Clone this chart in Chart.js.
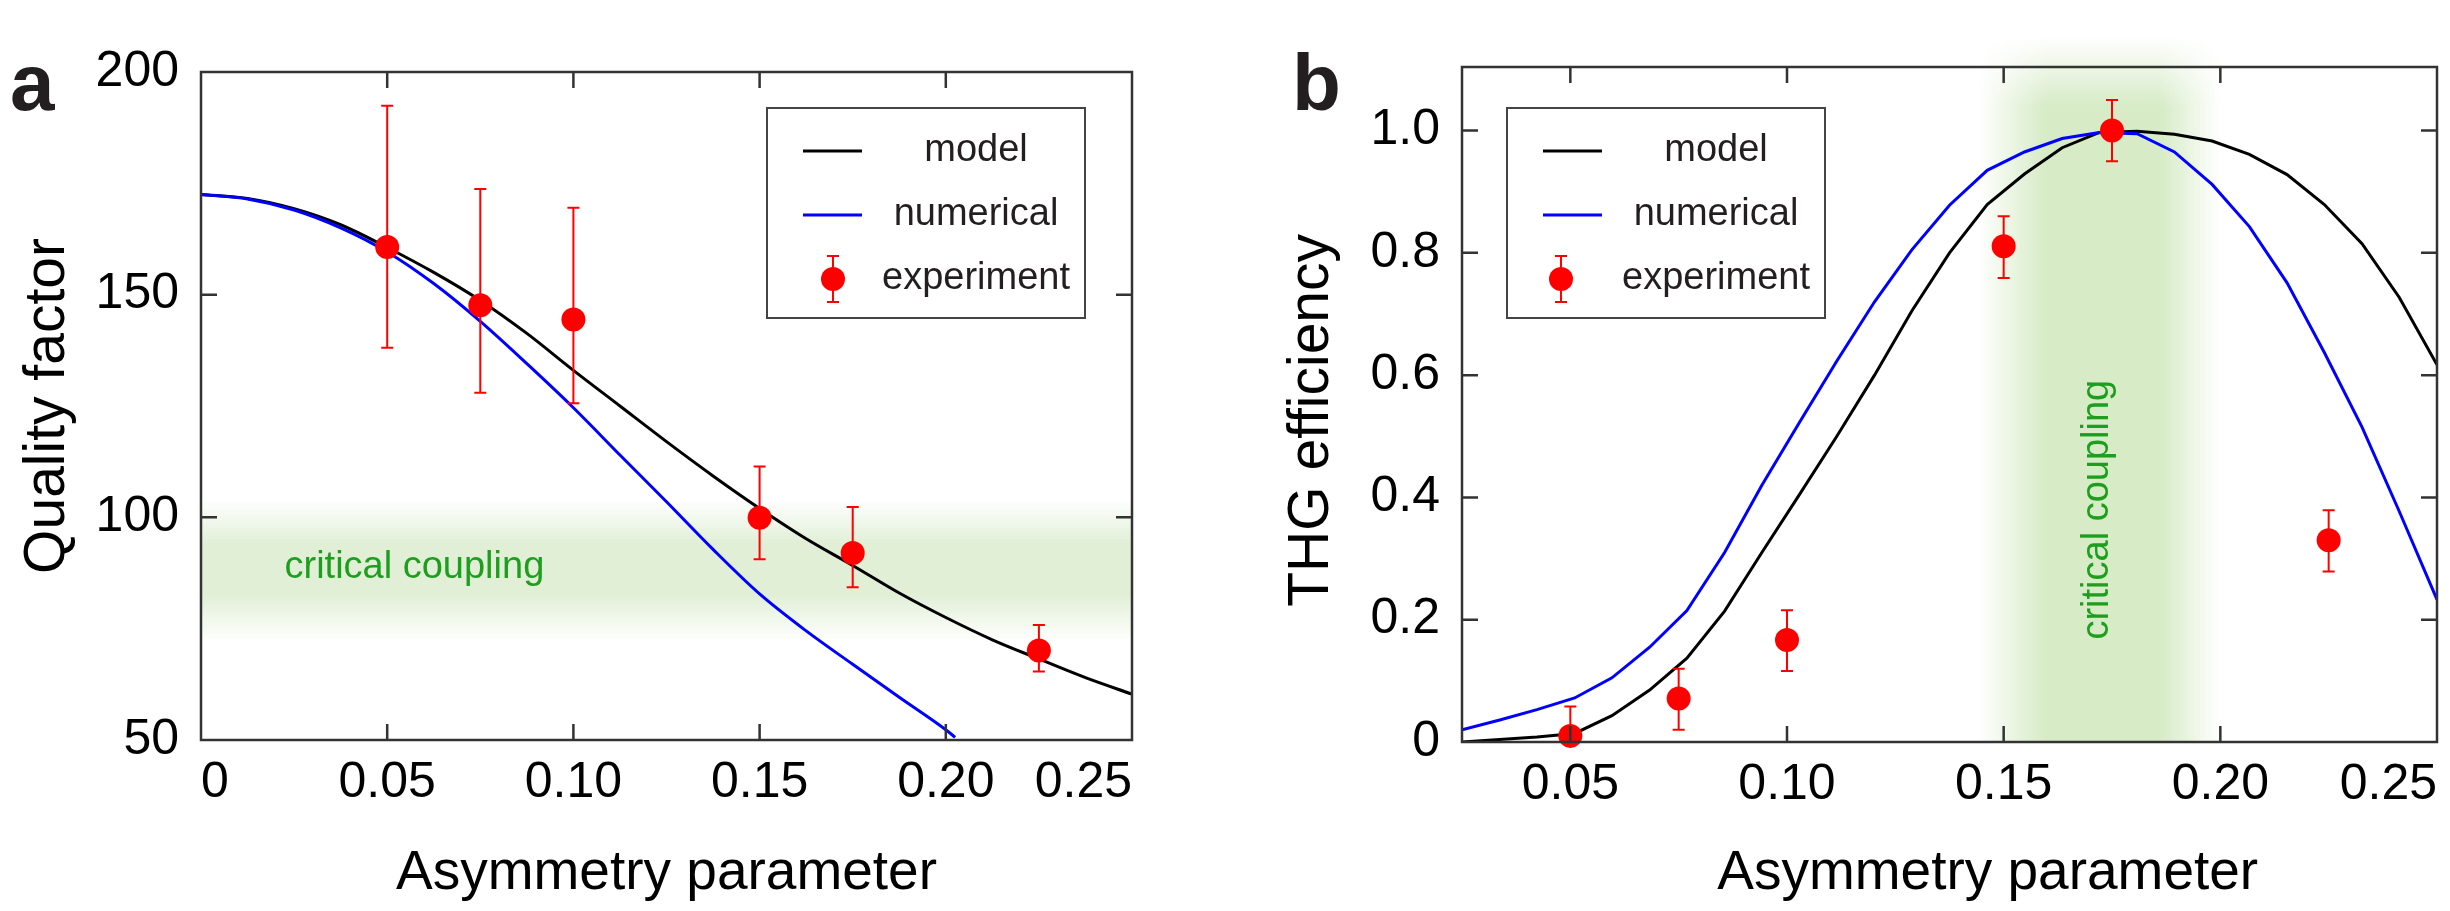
<!DOCTYPE html>
<html>
<head>
<meta charset="utf-8">
<title>Quality factor and THG efficiency vs asymmetry parameter</title>
<script src="https://cdn.jsdelivr.net/npm/chart.js@4.4.1/dist/chart.umd.min.js"></script>
<style>
  html, body { margin: 0; padding: 0; background: #fff; }
  body { width: 2450px; height: 911px; position: relative; overflow: hidden; }
  #chart-a { position: absolute; left: 0; top: 0; }
  #chart-b { position: absolute; left: 1200px; top: 0; }
</style>
</head>
<body>
<canvas id="chart-a" width="1200" height="911"></canvas>
<canvas id="chart-b" width="1250" height="911"></canvas>
<script>
// Two panels: (a) quality factor, (b) THG efficiency, both vs asymmetry parameter

// ---- panel a data ----
const aModelX = [0, 0.0125, 0.025, 0.0375, 0.05, 0.0625, 0.075, 0.0875, 0.1, 0.1125, 0.125, 0.1375, 0.15, 0.1625, 0.175, 0.1875, 0.2, 0.2125, 0.225, 0.2375, 0.25];
const aModelY = [172.5, 171.6, 169.3, 165.7, 160.6, 155, 148.7, 141.3, 133, 125, 117, 109.3, 102, 95.2, 89.2, 83, 77.5, 72.5, 68.2, 64, 60.3];
const aNumX = [0, 0.0125, 0.025, 0.0375, 0.05, 0.0625, 0.075, 0.0875, 0.1, 0.1125, 0.125, 0.1375, 0.15, 0.1625, 0.175, 0.1875, 0.2, 0.2025];
const aNumY = [172.5, 171.5, 169, 165, 159.6, 152.5, 144, 134.5, 124.6, 114, 103.5, 92.8, 82.8, 74.5, 67, 59.6, 52.3, 50.6];
const aExpX = [0.05, 0.075, 0.10, 0.15, 0.175, 0.225];
const aExpY = [160.7, 147.6, 144.4, 99.9, 92.0, 70.1];
const aExpLow = [138.1, 128, 125.6, 90.6, 84.3, 65.4];
const aExpHigh = [192.4, 173.7, 169.5, 111.4, 102.3, 75.8];
const aXTicks = [0, 0.05, 0.10, 0.15, 0.20, 0.25];
const aXTickLabels = ['0', '0.05', '0.10', '0.15', '0.20', '0.25'];
const aYTicks = [50, 100, 150, 200];
const aYTickLabels = ['50', '100', '150', '200'];
const aCriticalQ = [72, 83, 94, 104];   // fade-in, full, full, fade-out

// ---- panel b data ----
const bGridX = [0.025, 0.0337, 0.0423, 0.051, 0.0596, 0.0683, 0.0769, 0.0856, 0.0942, 0.1029, 0.1115, 0.1202, 0.1288, 0.1375, 0.1462, 0.1548, 0.1635, 0.1721, 0.1808, 0.1894, 0.1981, 0.2067, 0.2154, 0.224, 0.2327, 0.2413, 0.25];
const bModelY = [0.0, 0.004, 0.008, 0.014, 0.043, 0.085, 0.137, 0.214, 0.31, 0.405, 0.5, 0.6, 0.705, 0.8, 0.879, 0.929, 0.972, 0.997, 0.999, 0.994, 0.983, 0.961, 0.928, 0.879, 0.815, 0.727, 0.617];
const bNumY = [0.02, 0.036, 0.053, 0.072, 0.105, 0.155, 0.215, 0.31, 0.42, 0.523, 0.623, 0.72, 0.805, 0.878, 0.935, 0.965, 0.987, 0.997, 0.995, 0.965, 0.912, 0.843, 0.751, 0.637, 0.515, 0.377, 0.233];
const bExpX = [0.05, 0.075, 0.10, 0.15, 0.175, 0.225];
const bExpY = [0.01, 0.071, 0.167, 0.811, 1.0, 0.33];
const bExpLow = [-0.038, 0.02, 0.116, 0.759, 0.95, 0.279];
const bExpHigh = [0.058, 0.12, 0.2155, 0.86, 1.05, 0.379];
const bXTicks = [0.025, 0.05, 0.10, 0.15, 0.20, 0.25];
const bXTickLabels = ['', '0.05', '0.10', '0.15', '0.20', '0.25'];
const bYTicks = [0, 0.2, 0.4, 0.6, 0.8, 1.0];
const bYTickLabels = ['0', '0.2', '0.4', '0.6', '0.8', '1.0'];
const bCriticalX = [0.144, 0.16, 0.186, 0.2];

const legendOrder = ['model', 'numerical', 'experiment'];

const FONT = '"Liberation Sans", Arial, Helvetica, sans-serif';
const INK = '#231f20';
const AXIS = '#333333';
const RED = '#ff0000';
const BLUE = '#0000ff';
const BLACK = '#000000';
const NOTE_GREEN = '#1e9e1e';

function points(xs, ys) {
  return xs.map((x, i) => ({ x, y: ys[i] }));
}

// ---- drawing helpers used by the plugin ----
function drawBand(chart, band) {
  if (!band) return;
  const { ctx, chartArea: area, scales } = chart;
  const px = band.values.map(v => scales[band.axis].getPixelForValue(v));
  const full = `rgba(${band.rgb},1)`;
  const none = `rgba(${band.rgb},0)`;
  ctx.save();
  if (band.axis === 'y') {
    const top = px[3], bottom = px[0], h = bottom - top;
    const g = ctx.createLinearGradient(0, top, 0, bottom);
    g.addColorStop(0, none);
    g.addColorStop((px[2] - top) / h, full);
    g.addColorStop((px[1] - top) / h, full);
    g.addColorStop(1, none);
    ctx.fillStyle = g;
    ctx.fillRect(area.left, top, area.right - area.left, h);
  } else {
    const left = px[0], right = px[3], w = right - left;
    const g = ctx.createLinearGradient(left, 0, right, 0);
    g.addColorStop(0, none);
    g.addColorStop((px[1] - left) / w, full);
    g.addColorStop((px[2] - left) / w, full);
    g.addColorStop(1, none);
    const top = area.top - band.overhang;
    ctx.fillStyle = g;
    ctx.fillRect(left, top, w, area.bottom - top);
    // soften the part that spills over the top of the frame
    const soft = ctx.createLinearGradient(0, top, 0, area.top + band.soften);
    soft.addColorStop(0, 'rgba(255,255,255,1)');
    soft.addColorStop(1, 'rgba(255,255,255,0)');
    ctx.fillStyle = soft;
    ctx.fillRect(left - 1, top, w + 2, area.top + band.soften - top);
  }
  ctx.restore();
}

function drawNote(chart, note) {
  if (!note) return;
  const { ctx, scales: { x, y } } = chart;
  ctx.save();
  ctx.translate(x.getPixelForValue(note.x), y.getPixelForValue(note.y));
  if (note.vertical) ctx.rotate(-Math.PI / 2);
  ctx.font = `${note.size}px ${FONT}`;
  ctx.fillStyle = NOTE_GREEN;
  ctx.textAlign = 'center';
  ctx.textBaseline = 'middle';
  ctx.fillText(note.text, 0, 0);
  ctx.restore();
}

function drawErrorBars(chart, eb) {
  const { ctx, chartArea: a, scales: { x, y } } = chart;
  const data = chart.data.datasets[eb.dataset].data;
  ctx.save();
  ctx.beginPath();
  ctx.rect(a.left, a.top, a.right - a.left, a.bottom - a.top);
  ctx.clip();
  ctx.strokeStyle = RED;
  ctx.lineWidth = 2;
  ctx.beginPath();
  data.forEach((p, i) => {
    const px = x.getPixelForValue(p.x);
    const lo = y.getPixelForValue(eb.low[i]);
    const hi = y.getPixelForValue(eb.high[i]);
    ctx.moveTo(px, lo); ctx.lineTo(px, hi);
    ctx.moveTo(px - eb.cap / 2, lo); ctx.lineTo(px + eb.cap / 2, lo);
    ctx.moveTo(px - eb.cap / 2, hi); ctx.lineTo(px + eb.cap / 2, hi);
  });
  ctx.stroke();
  ctx.restore();
}

// box around the plot with inward tick marks on all four sides
function drawFrame(chart, len) {
  const { ctx, chartArea: a, scales: { x, y } } = chart;
  ctx.save();
  ctx.strokeStyle = AXIS;
  ctx.lineWidth = 2.5;
  ctx.strokeRect(a.left, a.top, a.right - a.left, a.bottom - a.top);
  ctx.beginPath();
  x.ticks.forEach(t => {
    if (t.value <= x.min || t.value >= x.max) return;
    const p = x.getPixelForValue(t.value);
    ctx.moveTo(p, a.bottom); ctx.lineTo(p, a.bottom - len);
    ctx.moveTo(p, a.top); ctx.lineTo(p, a.top + len);
  });
  y.ticks.forEach(t => {
    if (t.value <= y.min || t.value >= y.max) return;
    const p = y.getPixelForValue(t.value);
    ctx.moveTo(a.left, p); ctx.lineTo(a.left + len, p);
    ctx.moveTo(a.right, p); ctx.lineTo(a.right - len, p);
  });
  ctx.stroke();
  ctx.restore();
}

function drawLegendBox(chart, lg) {
  const { ctx } = chart;
  const rows = [43, 107, 171];
  ctx.save();
  ctx.fillStyle = '#fff';
  ctx.fillRect(lg.left, lg.top, lg.width, lg.height);
  ctx.strokeStyle = '#444';
  ctx.lineWidth = 2;
  ctx.strokeRect(lg.left, lg.top, lg.width, lg.height);
  legendOrder.forEach((name, i) => {
    const ds = chart.data.datasets.find(d => d.label === name);
    const cy = lg.top + rows[i];
    if (ds.showLine) {
      ctx.strokeStyle = ds.borderColor;
      ctx.lineWidth = 3;
      ctx.beginPath();
      ctx.moveTo(lg.left + 36, cy);
      ctx.lineTo(lg.left + 95, cy);
      ctx.stroke();
    } else {
      const mx = lg.left + lg.markerX;
      ctx.strokeStyle = ds.backgroundColor;
      ctx.lineWidth = 2;
      ctx.beginPath();
      ctx.moveTo(mx, cy - 23); ctx.lineTo(mx, cy + 23);
      ctx.moveTo(mx - 6, cy - 23); ctx.lineTo(mx + 6, cy - 23);
      ctx.moveTo(mx - 6, cy + 23); ctx.lineTo(mx + 6, cy + 23);
      ctx.stroke();
      ctx.fillStyle = ds.backgroundColor;
      ctx.beginPath();
      ctx.arc(mx, cy, 12, 0, Math.PI * 2);
      ctx.fill();
    }
    ctx.fillStyle = INK;
    ctx.font = `38px ${FONT}`;
    ctx.textAlign = 'center';
    ctx.textBaseline = 'alphabetic';
    ctx.fillText(name, lg.left + 209, cy + 10);
  });
  ctx.restore();
}

function drawLetter(chart, letter) {
  const { ctx } = chart;
  ctx.save();
  ctx.fillStyle = INK;
  ctx.font = `bold 80px ${FONT}`;
  ctx.textAlign = 'left';
  ctx.textBaseline = 'alphabetic';
  ctx.fillText(letter.text, letter.x, letter.y);
  ctx.restore();
}

const figurePlugin = {
  id: 'figure',
  beforeDatasetsDraw(chart, args, opts) {
    drawBand(chart, opts.band);
    drawNote(chart, opts.note);
  },
  beforeDatasetDraw(chart, args, opts) {
    if (args.index === opts.errorBars.dataset) drawErrorBars(chart, opts.errorBars);
  },
  afterDatasetsDraw(chart, args, opts) {
    drawFrame(chart, 16);
  },
  afterDraw(chart, args, opts) {
    drawLegendBox(chart, opts.legend);
    drawLetter(chart, opts.letter);
  }
};

function axis(cfg) {
  return {
    type: 'linear',
    min: cfg.min,
    max: cfg.max,
    afterBuildTicks: s => { s.ticks = cfg.ticks.map(v => ({ value: v })); },
    afterFit: s => {
      if (s.isHorizontal()) s.height = cfg.size; else s.width = cfg.size;
    },
    grid: { display: false, drawTicks: false },
    border: { display: false },
    ticks: {
      autoSkip: false,
      maxRotation: 0,
      minRotation: 0,
      align: cfg.align || 'center',
      padding: cfg.pad,
      color: '#000',
      font: { family: FONT, size: 50 },
      callback: (v, i) => cfg.labels[i]
    },
    title: {
      display: true,
      text: cfg.title,
      color: '#000',
      font: { family: FONT, size: cfg.titleSize },
      padding: cfg.titlePad
    }
  };
}

function lineSet(label, xs, ys, color, smooth) {
  return {
    label,
    data: points(xs, ys),
    showLine: true,
    borderColor: color,
    backgroundColor: color,
    borderWidth: 3,
    pointRadius: 0,
    cubicInterpolationMode: smooth ? 'monotone' : 'default',
    tension: 0
  };
}

function expSet(xs, ys) {
  return {
    label: 'experiment',
    data: points(xs, ys),
    showLine: false,
    backgroundColor: RED,
    borderColor: RED,
    borderWidth: 0,
    pointRadius: 12,
    pointHoverRadius: 12,
    clip: false
  };
}

const baseOptions = {
  responsive: false,
  animation: false,
  events: []
};

// ---- panel a ----
new Chart(document.getElementById('chart-a'), {
  type: 'scatter',
  data: {
    datasets: [
      expSet(aExpX, aExpY),
      lineSet('numerical', aNumX, aNumY, BLUE, true),
      lineSet('model', aModelX, aModelY, BLACK, true)
    ]
  },
  options: {
    ...baseOptions,
    layout: { padding: { top: 72, right: 68, bottom: 0, left: 0 } },
    scales: {
      x: axis({ min: 0, max: 0.25, ticks: aXTicks, labels: aXTickLabels, align: 'inner', size: 171, pad: 13,
        title: 'Asymmetry parameter', titleSize: 55, titlePad: { top: 0, bottom: 4 } }),
      y: axis({ min: 50, max: 200, ticks: aYTicks, labels: aYTickLabels, size: 201, pad: 22,
        title: 'Quality factor', titleSize: 57, titlePad: { top: 14, bottom: 0 } })
    },
    plugins: {
      legend: { display: false },
      tooltip: { enabled: false },
      figure: {
        band: { axis: 'y', values: aCriticalQ, rgb: '224,239,214' },
        note: { text: 'critical coupling', x: 0.0573, y: 88.7, size: 38, vertical: false },
        errorBars: { dataset: 0, low: aExpLow, high: aExpHigh, cap: 12 },
        legend: { left: 767, top: 108, width: 318, height: 210, markerX: 66 },
        letter: { text: 'a', x: 10, y: 110 }
      }
    }
  },
  plugins: [figurePlugin]
});

// ---- panel b ----
new Chart(document.getElementById('chart-b'), {
  type: 'scatter',
  data: {
    datasets: [
      expSet(bExpX, bExpY),
      lineSet('numerical', bGridX, bNumY, BLUE, false),
      lineSet('model', bGridX, bModelY, BLACK, false)
    ]
  },
  options: {
    ...baseOptions,
    layout: { padding: { top: 67, right: 12, bottom: 0, left: 0 } },
    scales: {
      x: axis({ min: 0.025, max: 0.25, ticks: bXTicks, labels: bXTickLabels, align: 'inner', size: 169, pad: 13,
        // leading spaces push the title right, as in the original
        title: '     Asymmetry parameter', titleSize: 55, titlePad: { top: 0, bottom: 4 } }),
      y: axis({ min: 0, max: 1.104, ticks: bYTicks, labels: bYTickLabels, size: 262, pad: 22,
        title: 'THG efficiency  ', titleSize: 57, titlePad: { top: 78, bottom: 0 } })
    },
    plugins: {
      legend: { display: false },
      tooltip: { enabled: false },
      figure: {
        band: { axis: 'x', values: bCriticalX, rgb: '214,235,198', overhang: 30, soften: 40 },
        note: { text: 'critical coupling', x: 0.1716, y: 0.38, size: 38, vertical: true },
        errorBars: { dataset: 0, low: bExpLow, high: bExpHigh, cap: 12 },
        legend: { left: 307, top: 108, width: 318, height: 210, markerX: 54 },
        letter: { text: 'b', x: 92, y: 110 }
      }
    }
  },
  plugins: [figurePlugin]
});
</script>
</body>
</html>
